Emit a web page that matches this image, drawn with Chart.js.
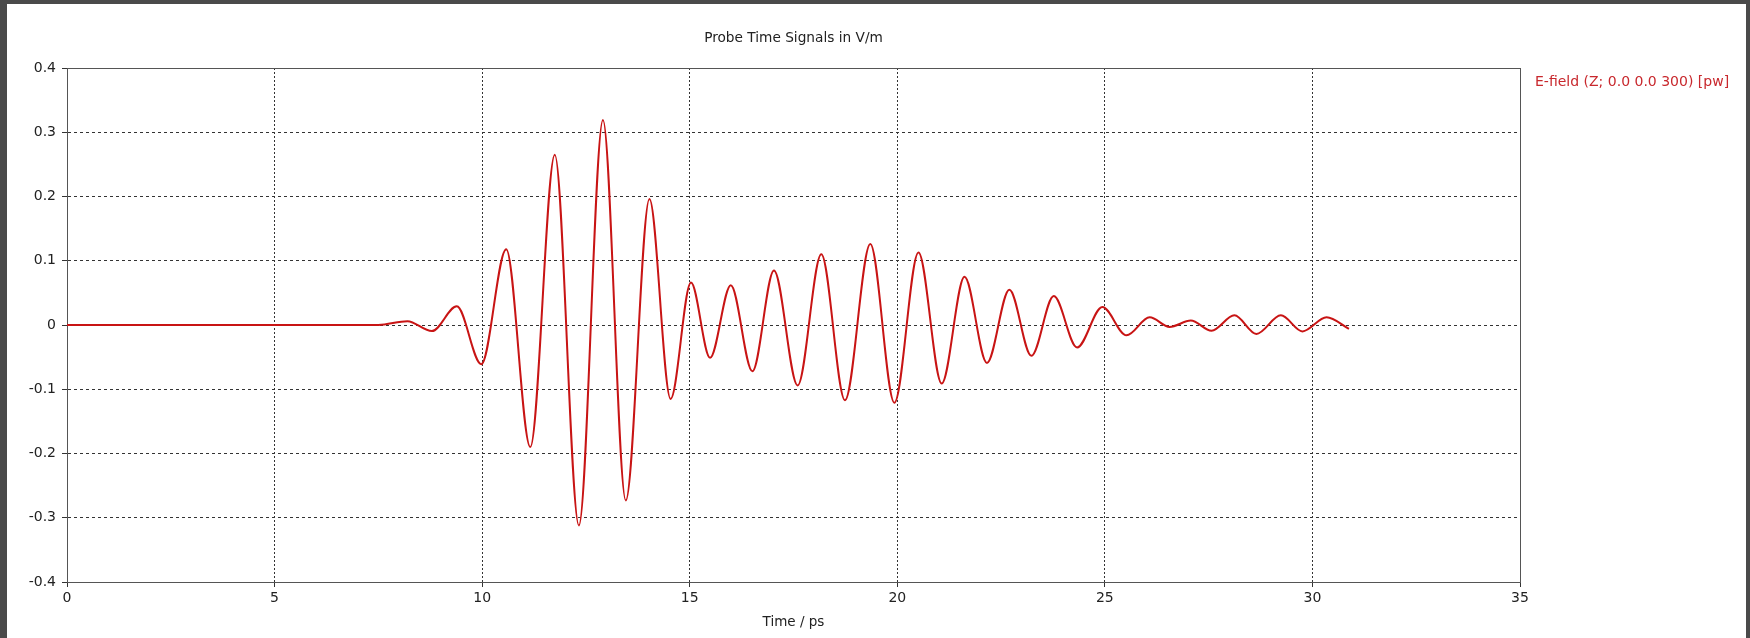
<!DOCTYPE html>
<html>
<head>
<meta charset="utf-8">
<title>Probe Time Signals</title>
<script src="https://cdn.jsdelivr.net/npm/chart.js@4.4.0/dist/chart.umd.min.js"></script>
<style>
  html, body { margin: 0; padding: 0; }
  body { width: 1750px; height: 638px; background: #4a4a4a; overflow: hidden; position: relative; }
  #frame { position: absolute; left: 7px; top: 4px; width: 1739px; height: 634px; background: #fff; }
</style>
</head>
<body>
<div id="frame"><canvas id="probeChart" width="1739" height="634"></canvas></div>
<script>
// probe signal at the flat start, each peak / trough and the last sample
const timePs = [0, 7.5, 8.20, 8.79, 9.39, 9.98, 10.58, 11.16, 11.75, 12.33, 12.91, 13.46, 14.03, 14.54,
    15.03, 15.49, 15.99, 16.51, 17.03, 17.60, 18.17, 18.74, 19.35, 19.93, 20.51, 21.07, 21.62, 22.16,
    22.70, 23.23, 23.77, 24.33, 24.94, 25.52, 26.08, 26.56, 27.07, 27.57, 28.12, 28.65, 29.24, 29.76,
    30.34, 30.88];
const fieldVm = [0, 0, 0.006, -0.0095, 0.029, -0.061, 0.118, -0.190, 0.265, -0.312, 0.319, -0.273, 0.196, -0.115,
    0.066, -0.051, 0.062, -0.072, 0.085, -0.094, 0.110, -0.117, 0.126, -0.121, 0.113, -0.091, 0.075, -0.059,
    0.055, -0.048, 0.045, -0.035, 0.028, -0.016, 0.012, -0.003, 0.007, -0.009, 0.015, -0.014, 0.015, -0.010,
    0.012, -0.006];
const xTicks = [0, 5, 10, 15, 20, 25, 30, 35];
const yTicks = [-0.4, -0.3, -0.2, -0.1, 0, 0.1, 0.2, 0.3, 0.4];
const seriesLabel = 'E-field (Z; 0.0 0.0 300) [pw]';

const fontFamily = '"DejaVu Sans", Verdana, sans-serif';
const textColor = '#222';

// solid box round the plot (top + right edges)
const plotFrame = {
    id: 'plotFrame',
    beforeDatasetsDraw(chart) {
        const {ctx, chartArea} = chart;
        ctx.save();
        ctx.strokeStyle = '#555';
        ctx.lineWidth = 1;
        ctx.strokeRect(Math.round(chartArea.left) + 0.5, Math.round(chartArea.top) + 0.5,
            Math.round(chartArea.width), Math.round(chartArea.height));
        ctx.restore();
    }
};

// series name to the right of the plot, no swatch
const sideLegend = {
    id: 'sideLegend',
    afterDraw(chart) {
        const {ctx, chartArea} = chart;
        ctx.save();
        ctx.font = '14px ' + fontFamily;
        ctx.fillStyle = '#c8282d';
        ctx.textBaseline = 'middle';
        ctx.textAlign = 'left';
        ctx.fillText(chart.data.datasets[0].label, chartArea.right + 15, chartArea.top + 14);
        ctx.restore();
    }
};

const points = timePs.map((t, i) => ({x: t, y: fieldVm[i]}));

const ctx = document.getElementById('probeChart').getContext('2d');
const probeChart = new Chart(ctx, {
    type: 'line',
    data: {
        datasets: [{
            label: seriesLabel,
            data: points,
            borderColor: '#c81414',
            borderWidth: 2,
            pointRadius: 0,
            cubicInterpolationMode: 'monotone',
            fill: false
        }]
    },
    options: {
        responsive: false,
        animation: false,
        devicePixelRatio: 1,
        layout: { padding: { left: 0, right: 226, top: 0, bottom: 0 } },
        plugins: {
            legend: { display: false },
            tooltip: { enabled: false },
            title: {
                display: true,
                fullSize: false,
                text: 'Probe Time Signals in V/m',
                color: textColor,
                font: { family: fontFamily, size: 13.7, weight: 'normal' },
                padding: { top: 25.8, bottom: 21.76 }
            }
        },
        scales: {
            x: {
                type: 'linear',
                min: 0,
                max: 35,
                afterBuildTicks: scale => { scale.ticks = xTicks.map(v => ({value: v})); },
                afterFit: scale => { scale.height = 56; },
                ticks: {
                    color: textColor,
                    font: { family: fontFamily, size: 14 },
                    padding: 3,
                    maxRotation: 0,
                    callback: v => String(v)
                },
                grid: { color: '#333', lineWidth: 1, tickLength: 5, tickColor: '#333' },
                border: { display: true, color: '#555', width: 1, dash: [2, 2] },
                title: {
                    display: true,
                    text: 'Time / ps',
                    color: textColor,
                    font: { family: fontFamily, size: 13.5 },
                    padding: { top: 0, bottom: 7 }
                }
            },
            y: {
                min: -0.4,
                max: 0.4,
                afterBuildTicks: scale => { scale.ticks = yTicks.map(v => ({value: v})); },
                afterFit: scale => { scale.width = 60; },
                ticks: {
                    color: textColor,
                    font: { family: fontFamily, size: 14 },
                    padding: 6,
                    callback: v => String(v)
                },
                grid: { color: '#333', lineWidth: 1, tickLength: 5, tickColor: '#333' },
                border: { display: true, color: '#111', width: 1, dash: [3, 3] }
            }
        }
    },
    plugins: [plotFrame, sideLegend]
});
</script>
</body>
</html>
